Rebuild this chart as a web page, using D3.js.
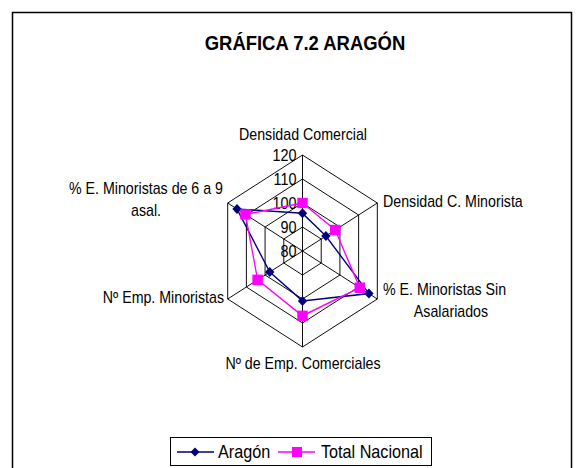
<!DOCTYPE html>
<html><head><meta charset="utf-8">
<script src="https://cdn.jsdelivr.net/npm/d3@7"></script>
<style>body{margin:0;background:#fff}svg{display:block}text{font-family:"Liberation Sans",Arial,sans-serif}</style>
</head><body>
<script>
const title = "GRÁFICA 7.2 ARAGÓN";
const categories = [
  ["Densidad Comercial"],
  ["Densidad C. Minorista"],
  ["% E. Minoristas Sin", "Asalariados"],
  ["Nº de Emp. Comerciales"],
  ["Nº Emp. Minoristas"],
  ["% E. Minoristas de 6 a 9", "asal."]
];
const seriesNames = ["Aragón", "Total Nacional"];
const aragon = [95.7, 92.5, 115.5, 100.8, 97.5, 115];
const nacional = [100, 97.5, 110.6, 107, 104, 110.5];
const ticks = [80, 90, 100, 110, 120];
const colors = ["#000080", "#FF00FF"];

const W = 582, H = 468, SX = 0.9;
const svg = d3.select("body").append("svg").attr("width", W).attr("height", H);
svg.append("rect").attr("x", 12.5).attr("y", 12.5).attr("width", 559).attr("height", 470)
  .attr("fill", "#fff").attr("stroke", "#000").attr("stroke-width", 1.5);

const g = svg.append("g").attr("transform", `scale(${SX},1)`);
const cx = 302.5 / SX, cy = 251;
const r = d3.scaleLinear().domain([80, 120]).range([0, 96]);
const n = categories.length;
const ang = i => i * 2 * Math.PI / n;
const px = (i, v) => cx + r(v) * Math.sin(ang(i));
const py = (i, v) => cy - r(v) * Math.cos(ang(i));

g.append("text").attr("x", 305 / SX).attr("y", 50).attr("text-anchor", "middle")
  .attr("font-size", 20.5).attr("font-weight", "bold").text(title);

ticks.slice(1).forEach(t => {
  g.append("path").attr("d", d3.line()(d3.range(n).map(i => [px(i, t), py(i, t)])) + "Z")
    .attr("fill", "none").attr("stroke", "#000").attr("stroke-width", 1);
});
d3.range(n).forEach(i => {
  g.append("line").attr("x1", cx).attr("y1", cy).attr("x2", px(i, 120)).attr("y2", py(i, 120))
    .attr("stroke", "#000").attr("stroke-width", 1);
});
ticks.forEach(t => {
  g.append("text").attr("x", cx - 6 / SX).attr("y", cy - r(t)).attr("dy", "0.36em")
    .attr("text-anchor", "end").attr("font-size", 16).text(t);
});

const labPos = [
  {x: 303, y: 140, a: "middle"},
  {x: 383, y: 207, a: "start"},
  {x: 383, y: 295, a: "start", x2: 451},
  {x: 303, y: 369, a: "middle"},
  {x: 224, y: 303, a: "end"},
  {x: 146, y: 194, a: "middle"}
];
categories.forEach((lines, i) => {
  const p = labPos[i];
  lines.forEach((s, k) => {
    let x = p.x, a = p.a;
    if (k > 0 && p.x2) { x = p.x2; a = "middle"; }
    g.append("text").attr("x", x / SX).attr("y", p.y + k * 22)
      .attr("text-anchor", a).attr("font-size", 15.8).text(s);
  });
});

const line = d3.line().curve(d3.curveLinearClosed);
const diamondPath = (hw, hh) => `M0,${-hh}L${hw},0L0,${hh}L${-hw},0Z`;
[aragon, nacional].forEach((vals, si) => {
  const pts = vals.map((v, i) => [px(i, v), py(i, v)]);
  g.append("path").attr("d", line(pts)).attr("fill", "none")
    .attr("stroke", colors[si]).attr("stroke-width", 1.5);
});
[aragon, nacional].forEach((vals, si) => {
  vals.forEach((v, i) => {
    const x = px(i, v), y = py(i, v);
    if (si === 0) {
      g.append("path").attr("d", diamondPath(5.2, 5))
        .attr("transform", `translate(${x},${y})`).attr("fill", colors[0]);
    } else {
      g.append("rect").attr("x", x - 5.8).attr("y", y - 5.2).attr("width", 11.6).attr("height", 10.4)
        .attr("fill", colors[1]);
    }
  });
});

// legend
const lg = svg.append("g");
lg.append("rect").attr("x", 170.5).attr("y", 437.5).attr("width", 261).attr("height", 28)
  .attr("fill", "#fff").attr("stroke", "#000").attr("stroke-width", 1);
const items = [{x: 177, tx: 218}, {x: 278, tx: 321}];
seriesNames.forEach((s, si) => {
  const it = items[si];
  lg.append("line").attr("x1", it.x).attr("x2", it.x + 37).attr("y1", 452).attr("y2", 452)
    .attr("stroke", colors[si]).attr("stroke-width", 1.5);
  if (si === 0) {
    lg.append("path").attr("d", diamondPath(4.5, 4.5))
      .attr("transform", `translate(${it.x + 18},452)`).attr("fill", colors[0]);
  } else {
    lg.append("rect").attr("x", it.x + 14).attr("y", 447).attr("width", 10).attr("height", 10).attr("fill", colors[1]);
  }
  lg.append("text").attr("x", it.tx).attr("y", 458.5).attr("font-size", 18)
    .attr("transform", `translate(${it.tx},0) scale(${SX},1) translate(${-it.tx},0)`).text(s);
});
</script>
</body></html>
